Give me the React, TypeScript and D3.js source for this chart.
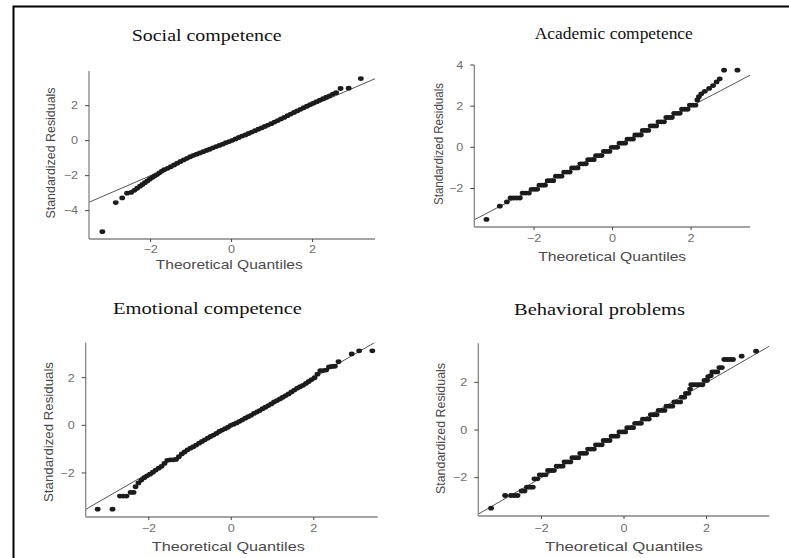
import React from 'react';
import * as d3 from 'd3';

// panel titles and ticks
const titles = ['Social competence', 'Academic competence', 'Emotional competence', 'Behavioral problems'];
const xTicks = [-2, 0, 2];
const yTicksByPanel = [[-4, -2, 0, 2], [-2, 0, 2, 4], [-2, 0, 2], [-2, 0, 2]];
const xLabel = 'Theoretical Quantiles';
const yLabel = 'Standardized Residuals';

// reference line (y = intercept + slope * x) for each panel
const lineSlopes = [1, 1, 1, 1];
const lineIntercepts = [0, 0, 0, 0];

// [theoretical quantile, standardized residual]
const social: [number, number][] = [
  [-3.19, -5.2], [-2.86, -3.54], [-2.7, -3.27], [-2.58, -3.0], [-2.48, -2.96], [-2.4, -2.84], [-2.33, -2.72],
  [-2.26, -2.6], [-2.2, -2.5], [-2.14, -2.4], [-2.08, -2.3], [-2.02, -2.2], [-1.96, -2.1], [-1.9, -2.02],
  [-1.84, -1.94], [-1.78, -1.84], [-1.72, -1.74], [-1.66, -1.66], [-1.58, -1.58], [-1.5, -1.49],
  [-1.42, -1.39], [-1.34, -1.29], [-1.26, -1.19], [-1.18, -1.1], [-1.1, -1.01], [-1.02, -0.92],
  [-0.94, -0.84], [-0.86, -0.77], [-0.78, -0.7], [-0.7, -0.63], [-0.62, -0.56], [-0.54, -0.49],
  [-0.46, -0.41], [-0.38, -0.34], [-0.3, -0.27], [-0.22, -0.2], [-0.14, -0.12], [-0.06, -0.05],
  [0.02, 0.02], [0.1, 0.1], [0.18, 0.18], [0.26, 0.26], [0.34, 0.33], [0.42, 0.41], [0.5, 0.49],
  [0.58, 0.57], [0.66, 0.65], [0.74, 0.73], [0.82, 0.81], [0.9, 0.89], [0.98, 0.97], [1.06, 1.06],
  [1.14, 1.15], [1.22, 1.24], [1.3, 1.33], [1.38, 1.43], [1.46, 1.52], [1.54, 1.61], [1.62, 1.7],
  [1.7, 1.79], [1.78, 1.88], [1.86, 1.97], [1.94, 2.06], [2.02, 2.15], [2.1, 2.23], [2.18, 2.32],
  [2.26, 2.4], [2.34, 2.48], [2.42, 2.56], [2.5, 2.66], [2.58, 2.74], [2.69, 2.98], [2.89, 3.0], [3.19, 3.55],
];

const academic: [number, number][] = [
  [-3.21, -3.5], [-2.87, -2.86], [-2.69, -2.65],
  [-2.6, -2.46], [-2.52, -2.46], [-2.44, -2.46], [-2.36, -2.46],
  [-2.29, -2.22], [-2.21, -2.22], [-2.13, -2.22], [-2.06, -2.04], [-1.99, -2.04], [-1.92, -2.04],
  [-1.86, -1.84], [-1.79, -1.84], [-1.72, -1.84], [-1.65, -1.62], [-1.58, -1.62], [-1.51, -1.62],
  [-1.44, -1.4], [-1.37, -1.4], [-1.3, -1.4], [-1.23, -1.2], [-1.16, -1.2], [-1.09, -1.2],
  [-1.03, -1.0], [-0.96, -1.0], [-0.89, -1.0], [-0.82, -0.8], [-0.75, -0.8], [-0.68, -0.8],
  [-0.62, -0.6], [-0.55, -0.6], [-0.48, -0.6], [-0.42, -0.4], [-0.35, -0.4], [-0.28, -0.4],
  [-0.22, -0.2], [-0.15, -0.2], [-0.08, -0.2], [-0.02, 0], [0.05, 0], [0.12, 0],
  [0.18, 0.2], [0.25, 0.2], [0.32, 0.2], [0.38, 0.4], [0.45, 0.4], [0.52, 0.4],
  [0.58, 0.6], [0.65, 0.6], [0.72, 0.6], [0.77, 0.82], [0.84, 0.82], [0.91, 0.82],
  [0.97, 1.04], [1.04, 1.04], [1.11, 1.04], [1.17, 1.24], [1.24, 1.24], [1.31, 1.24],
  [1.37, 1.45], [1.44, 1.45], [1.51, 1.45], [1.57, 1.65], [1.64, 1.65], [1.71, 1.65],
  [1.77, 1.85], [1.84, 1.85], [1.91, 1.85], [1.97, 2.05], [2.04, 2.05], [2.11, 2.05],
  [2.16, 2.3], [2.2, 2.46], [2.26, 2.6], [2.35, 2.72], [2.46, 2.86], [2.56, 3.0], [2.65, 3.18],
  [2.73, 3.33], [2.84, 3.75], [3.18, 3.75],
];

const emotional: [number, number][] = [
  [-3.24, -3.52], [-2.88, -3.52], [-2.7, -2.97], [-2.62, -2.97], [-2.54, -2.97], [-2.44, -2.82],
  [-2.37, -2.82], [-2.32, -2.58], [-2.25, -2.42], [-2.18, -2.3], [-2.11, -2.2], [-2.04, -2.12],
  [-1.97, -2.05], [-1.9, -1.97], [-1.83, -1.88], [-1.76, -1.8], [-1.69, -1.72], [-1.62, -1.6],
  [-1.55, -1.47], [-1.48, -1.45], [-1.41, -1.45], [-1.34, -1.43], [-1.27, -1.32], [-1.2, -1.2],
  [-1.13, -1.12], [-1.06, -1.03], [-0.99, -0.96], [-0.92, -0.9], [-0.85, -0.83], [-0.78, -0.75],
  [-0.71, -0.68], [-0.64, -0.61], [-0.57, -0.54], [-0.5, -0.47], [-0.43, -0.41], [-0.36, -0.34],
  [-0.29, -0.26], [-0.22, -0.2], [-0.15, -0.14], [-0.08, -0.08], [-0.01, 0.0], [0.06, 0.05],
  [0.13, 0.1], [0.2, 0.17], [0.27, 0.23], [0.34, 0.3], [0.41, 0.36], [0.48, 0.42], [0.55, 0.5],
  [0.62, 0.56], [0.69, 0.62], [0.76, 0.7], [0.83, 0.76], [0.9, 0.83], [0.97, 0.9], [1.04, 0.98],
  [1.11, 1.04], [1.18, 1.11], [1.25, 1.18], [1.32, 1.25], [1.39, 1.32], [1.46, 1.4], [1.53, 1.48],
  [1.6, 1.56], [1.67, 1.62], [1.74, 1.68], [1.81, 1.76], [1.88, 1.84], [1.95, 1.92], [2.02, 2.0],
  [2.09, 2.15], [2.16, 2.3], [2.23, 2.3], [2.3, 2.32], [2.37, 2.45], [2.44, 2.47], [2.51, 2.48],
  [2.6, 2.67], [2.92, 3.0], [3.1, 3.13], [3.42, 3.13],
];

const behavioral: [number, number][] = [
  [-3.22, -3.28], [-2.88, -2.75], [-2.74, -2.75], [-2.66, -2.75], [-2.58, -2.75], [-2.48, -2.56],
  [-2.41, -2.56], [-2.35, -2.4], [-2.28, -2.4], [-2.21, -2.4], [-2.17, -2.05], [-2.1, -2.05],
  [-2.04, -1.88], [-1.97, -1.88], [-1.9, -1.88], [-1.84, -1.7], [-1.77, -1.7], [-1.7, -1.7],
  [-1.63, -1.52], [-1.56, -1.52], [-1.49, -1.52], [-1.44, -1.34], [-1.37, -1.34], [-1.3, -1.34],
  [-1.25, -1.16], [-1.18, -1.16], [-1.11, -1.16], [-1.06, -0.98], [-0.99, -0.98], [-0.92, -0.98],
  [-0.87, -0.8], [-0.8, -0.8], [-0.73, -0.8], [-0.68, -0.62], [-0.61, -0.62], [-0.54, -0.62],
  [-0.49, -0.44], [-0.42, -0.44], [-0.35, -0.44], [-0.3, -0.26], [-0.23, -0.26], [-0.16, -0.26],
  [-0.11, -0.08], [-0.04, -0.08], [0.03, -0.08], [0.08, 0.1], [0.15, 0.1], [0.22, 0.1],
  [0.27, 0.28], [0.34, 0.28], [0.41, 0.28], [0.46, 0.46], [0.53, 0.46], [0.6, 0.46],
  [0.65, 0.64], [0.72, 0.64], [0.79, 0.64], [0.84, 0.82], [0.91, 0.82], [0.98, 0.82],
  [1.03, 1.0], [1.1, 1.0], [1.17, 1.0], [1.22, 1.18], [1.29, 1.18], [1.36, 1.18],
  [1.4, 1.38], [1.46, 1.38], [1.5, 1.54], [1.56, 1.54], [1.6, 1.72], [1.63, 1.9], [1.7, 1.9],
  [1.77, 1.9], [1.84, 1.9], [1.9, 1.9], [1.95, 2.08], [2.01, 2.08], [2.04, 2.24], [2.1, 2.28],
  [2.14, 2.44], [2.2, 2.44], [2.26, 2.44], [2.31, 2.62], [2.37, 2.62], [2.43, 2.96], [2.5, 2.96],
  [2.57, 2.96], [2.64, 2.96], [2.85, 3.1], [3.2, 3.31],
];

const series = [social, academic, emotional, behavioral];

// where each panel sits on the page (pixels)
const layout = [
  { x0: 89, x1: 375, y0: 239, y1: 71, xd: [-3.52, 3.54], yd: [-5.62, 3.98],
    title: [206.7, 40.5, 150], xlab: [229.3, 269, 147], ylab: [55, 153, 131], tickY: 252.5 },
  { x0: 474.3, x1: 750, y0: 227, y1: 65, xd: [-3.52, 3.5], yd: [-3.87, 4.0],
    title: [613.8, 39.3, 158], xlab: [612.2, 261, 148], ylab: [443, 144, 122], tickY: 242 },
  { x0: 85.7, x1: 377.7, y0: 517, y1: 342.7, xd: [-3.53, 3.55], yd: [-3.85, 3.47],
    title: [207.5, 313.7, 189], xlab: [228.3, 550.7, 153], ylab: [53, 432, 140], tickY: 532 },
  { x0: 478.3, x1: 769.3, y0: 516, y1: 343.3, xd: [-3.53, 3.52], yd: [-3.61, 3.64],
    title: [599.5, 314.7, 171], xlab: [624, 550.7, 158], ylab: [445, 428.5, 131], tickY: 532 },
];

const sans = '"Liberation Sans", Arial, Helvetica, sans-serif';
const serif = '"Liberation Serif", "Times New Roman", serif';

function Panel({ i }: { i: number }) {
  const L = layout[i];
  const x = d3.scaleLinear().domain(L.xd).range([L.x0, L.x1]);
  const y = d3.scaleLinear().domain(L.yd).range([L.y0, L.y1]);
  const [xa, xb] = L.xd;
  const m = lineSlopes[i];
  const b = lineIntercepts[i];

  return (
    <g>
      <clipPath id={`clip${i}`}>
        <rect x={L.x0} y={L.y1} width={L.x1 - L.x0} height={L.y0 - L.y1} />
      </clipPath>
      <line clipPath={`url(#clip${i})`} x1={x(xa)} y1={y(b + m * xa)} x2={x(xb)} y2={y(b + m * xb)}
        stroke="#555" strokeWidth={1} />
      {series[i].map((d, k) => (
        <ellipse key={k} cx={x(d[0])} cy={y(d[1])} rx={2.9} ry={2.4} fill="#1c1c1c" />
      ))}
      {/* axes */}
      <line x1={L.x0} x2={L.x0} y1={L.y1} y2={L.y0} stroke="#858585" strokeWidth={1.3} />
      <line x1={L.x0} x2={L.x1} y1={L.y0} y2={L.y0} stroke="#858585" strokeWidth={1.3} />
      {xTicks.map(t => (
        <g key={'x' + t}>
          <line x1={x(t)} x2={x(t)} y1={L.y0} y2={L.y0 + 3} stroke="#444" strokeWidth={1} />
          <text transform={`translate(${x(t)},${L.tickY}) scale(1.2,1)`} textAnchor="middle"
            fontFamily={sans} fontSize={10.5} fill="#6e6e6e">
            {t < 0 ? '\u2212' + Math.abs(t) : t}
          </text>
        </g>
      ))}
      {yTicksByPanel[i].map(t => (
        <g key={'y' + t}>
          <line x1={L.x0 - 4} x2={L.x0} y1={y(t)} y2={y(t)} stroke="#444" strokeWidth={1} />
          <text transform={`translate(${L.x0 - 11},${y(t) + 3.8}) scale(1.2,1)`} textAnchor="end"
            fontFamily={sans} fontSize={10.5} fill="#6e6e6e">
            {t < 0 ? '\u2212' + Math.abs(t) : t}
          </text>
        </g>
      ))}
      {/* titles */}
      <text x={L.title[0]} y={L.title[1]} textAnchor="middle" fontFamily={serif} fontSize={16}
        fill="#111" textLength={L.title[2]} lengthAdjust="spacingAndGlyphs">{titles[i]}</text>
      <text x={L.xlab[0]} y={L.xlab[1]} textAnchor="middle" fontFamily={sans} fontSize={13.5}
        fill="#4a4a4a" textLength={L.xlab[2]} lengthAdjust="spacingAndGlyphs">{xLabel}</text>
      <text transform={`translate(${L.ylab[0]},${L.ylab[1]}) rotate(-90)`} textAnchor="middle"
        fontFamily={sans} fontSize={13.5} fill="#4a4a4a" textLength={L.ylab[2]}
        lengthAdjust="spacingAndGlyphs">{yLabel}</text>
    </g>
  );
}

export default function App() {
  return (
    <svg width={789} height={558} style={{ position: 'absolute', left: 0, top: 0, background: '#fff' }}>
      <rect x={0} y={0} width={789} height={558} fill="#fff" />
      {[0, 1, 2, 3].map(i => <Panel key={i} i={i} />)}
      {/* outer frame, right and bottom edges fall outside the picture */}
      <rect x={13.5} y={6.5} width={900} height={700} fill="none" stroke="#000" strokeWidth={2} />
    </svg>
  );
}
